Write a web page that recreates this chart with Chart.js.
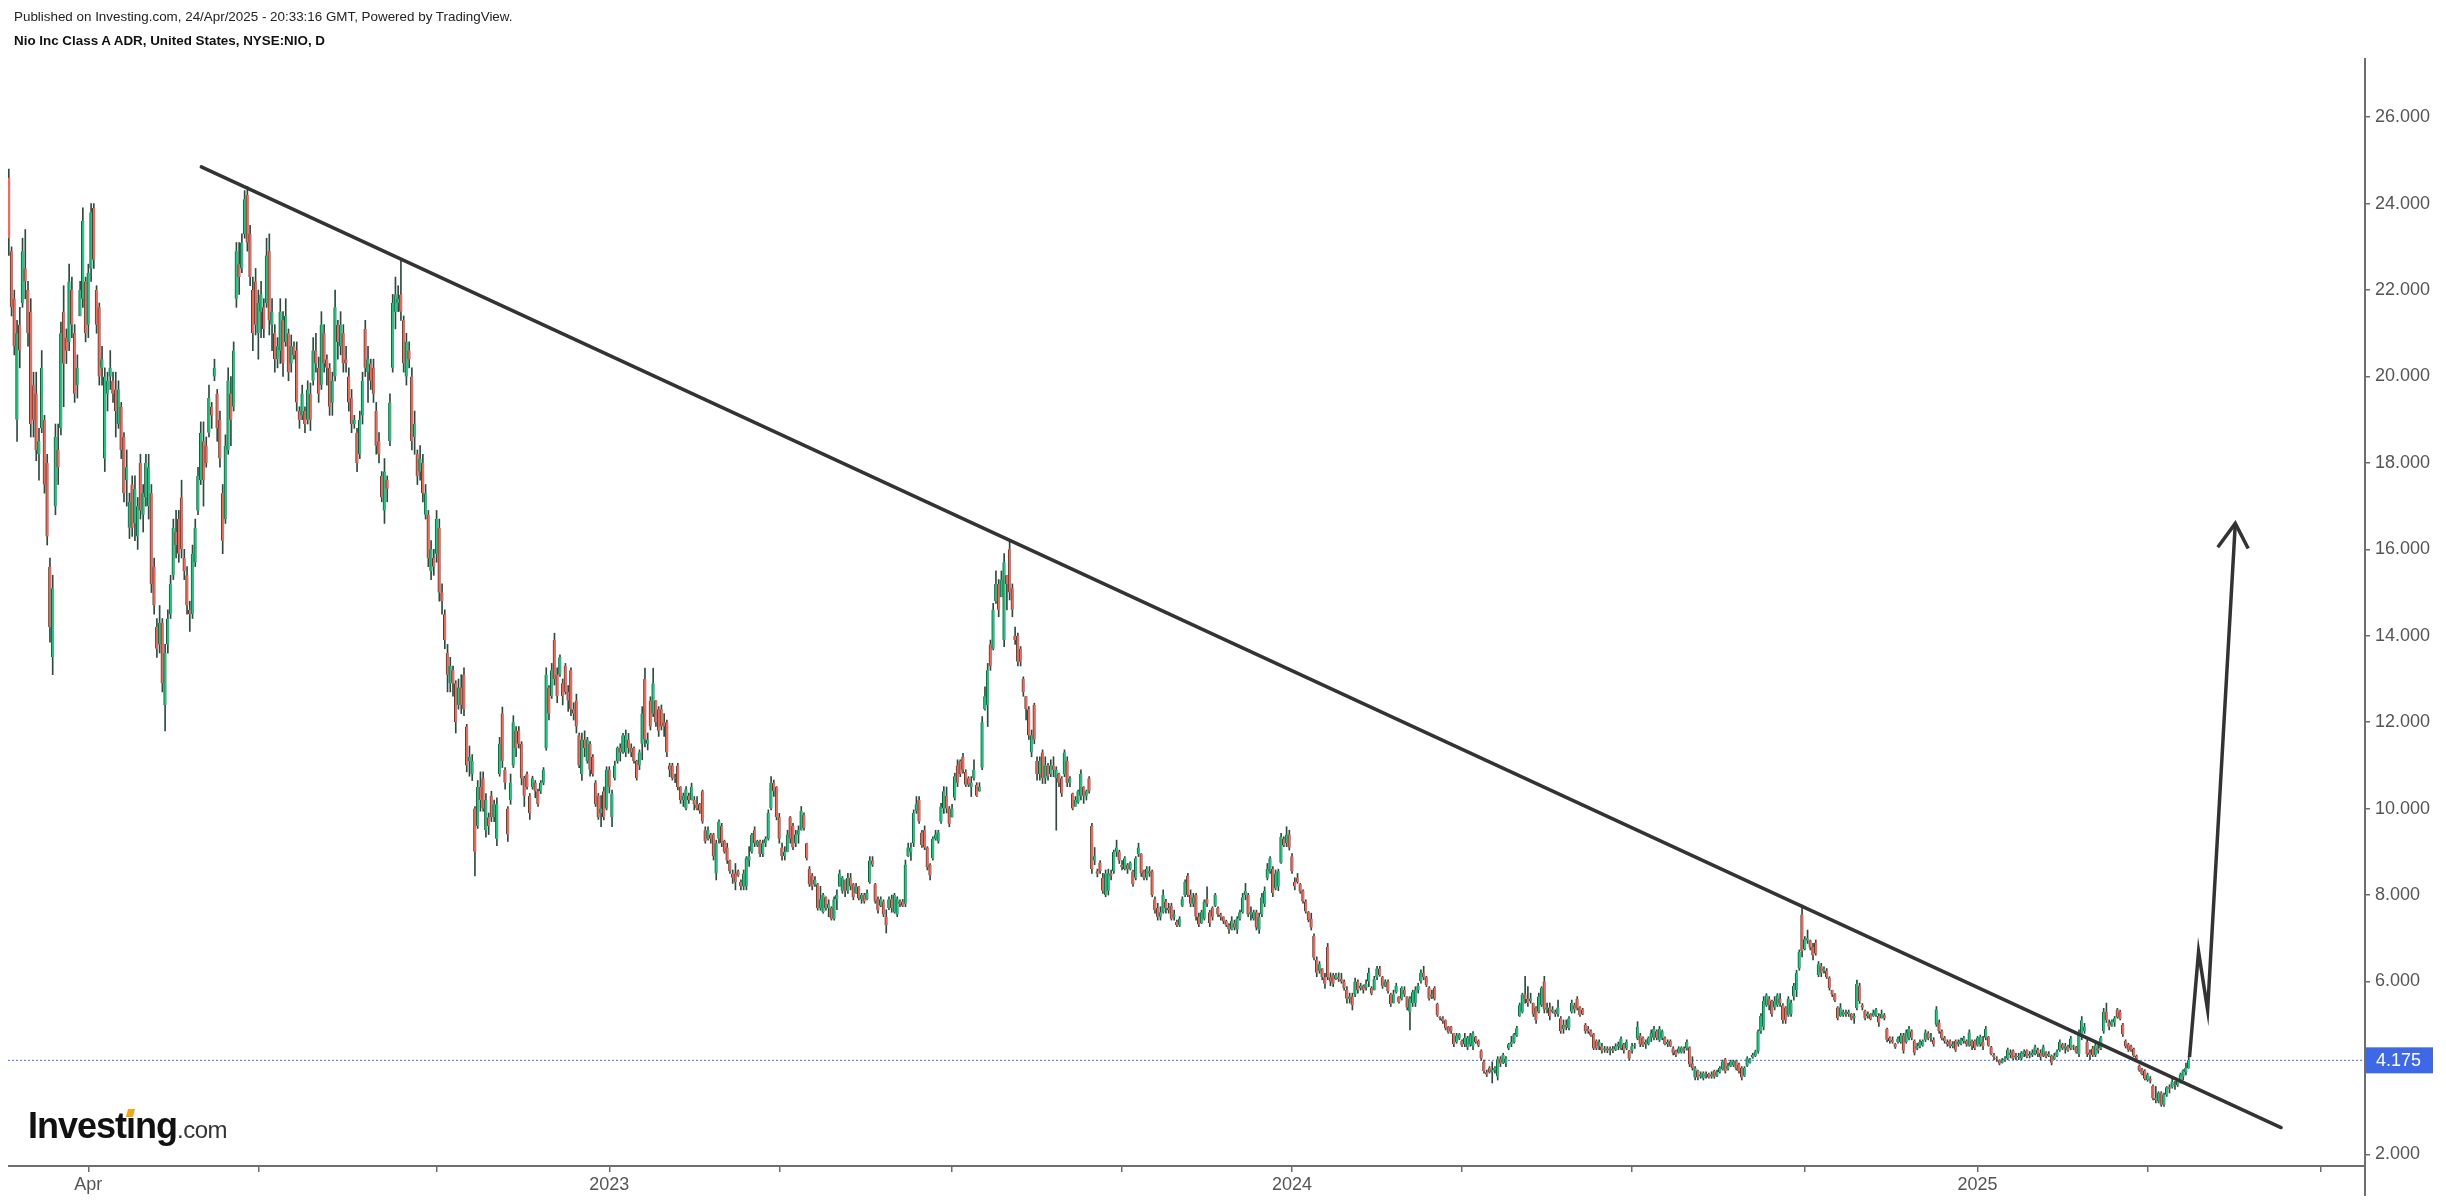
<!DOCTYPE html>
<html><head><meta charset="utf-8">
<script src="https://cdn.jsdelivr.net/npm/chart.js@4.4.1/dist/chart.umd.min.js"></script>
<style>
html,body{margin:0;padding:0;background:#fff;}
#wrap{position:relative;width:2446px;height:1202px;overflow:hidden;background:#fff;}
canvas{position:absolute;left:0;top:0;}
.h1{position:absolute;left:14px;top:9px;font:13.4px Arial,"Liberation Sans",sans-serif;color:#222;white-space:nowrap;line-height:15px;}
.h2{position:absolute;left:14px;top:33px;font:bold 13.4px Arial,"Liberation Sans",sans-serif;color:#111;white-space:nowrap;line-height:15px;}
.logo{position:absolute;left:28px;top:1108px;line-height:36px;white-space:nowrap;font-family:Arial,"Liberation Sans",sans-serif;color:#111;}
.inv{font-weight:bold;font-size:36px;letter-spacing:-1px;}
.com{font-size:24px;color:#333;letter-spacing:-0.5px;}
.di{position:relative;}
.dot{position:absolute;left:1px;top:4px;width:7px;height:8px;background:#f5a31a;transform:skewX(-15deg);}
</style></head>
<body>
<div id="wrap">
<canvas id="c" width="2446" height="1202"></canvas>
<div class="h1">Published on Investing.com, 24/Apr/2025 - 20:33:16 GMT, Powered by TradingView.</div>
<div class="h2">Nio Inc Class A ADR, United States, NYSE:NIO, D</div>
<div class="logo"><span class="inv">Invest<span class="di">ı<i class="dot"></i></span>ng</span><span class="com">.com</span></div>
</div>
<script>
// Daily candles [open, high, low, close], NYSE:NIO, from Feb 2022 to 24 Apr 2025
const ohlc2022 = [
[24.6,24.8,22.8,23.2],[22.9,23.0,21.4,21.6],[21.8,22.0,20.5,20.7],[19.0,21.3,18.5,21.0],[21.2,21.6,20.2,20.6],[21.7,23.2,21.6,22.9],[22.5,23.4,21.8,22.2],[22.0,22.2,20.7,21.0],[21.5,21.8,18.6,18.9],[19.8,20.1,18.6,19.0],
[19.6,20.1,18.05,18.3],[18.2,18.8,17.6,18.5],[18.8,20.6,18.7,20.2],[19.0,19.1,17.3,17.5],[18.0,18.2,16.1,16.3],[15.6,15.8,13.85,14.2],[13.5,15.4,13.1,15.1],[17.0,18.9,16.8,18.6],[18.3,18.9,17.5,17.9],[18.8,21.26,18.65,21.0],
[21.5,22.1,19.3,20.3],[20.9,21.1,20.3,20.6],[20.8,22.6,20.6,22.2],[22.0,22.3,20.9,21.2],[21.0,21.2,19.4,19.6],[19.8,20.5,19.5,20.2],[21.4,22.2,21.4,22.0],[21.8,23.9,21.6,23.6],[22.2,22.3,20.8,21.0],[21.2,22.6,20.9,22.4],
[22.5,24.0,22.2,23.8],[23.9,24.0,22.5,22.7],[22.0,22.1,21.0,21.2],[21.6,21.7,19.8,20.0],[20.2,20.7,19.8,20.4],[18.1,20.2,17.8,20.0],[19.6,20.1,19.2,19.9],[20.0,20.6,19.7,20.2],[19.9,20.1,19.4,19.6],[19.7,20.1,18.6,19.2],
[18.9,19.9,18.8,19.7],[19.3,19.4,18.1,18.3],[18.6,18.7,17.1,17.3],[17.6,18.3,17.0,17.9],[16.5,17.3,16.25,17.1],[17.5,17.7,16.3,16.5],[16.6,17.7,16.2,17.4],[16.3,17.2,16.0,17.0],[18.0,18.2,16.7,16.9],[16.8,17.5,16.4,17.3],
[17.2,18.2,17.0,18.0],[17.0,18.2,16.7,17.9],[17.3,17.5,15.0,15.2],[15.6,15.8,14.5,14.7],[14.2,14.4,13.5,13.7],[13.8,14.7,13.6,14.3],[14.3,14.4,12.7,12.9],[12.4,13.8,11.8,13.6],[13.8,14.6,13.6,14.4],[14.5,15.4,14.4,15.2],
[15.4,16.7,15.3,16.5],[16.4,16.9,15.8,16.1],[16.7,16.9,15.7,15.9],[17.2,17.6,15.8,16.0],[15.8,16.0,15.3,15.5],[15.4,15.6,14.5,14.7],[14.6,14.8,14.1,14.5],[14.5,16.1,14.4,15.9],[15.7,16.7,15.6,16.5],[16.9,17.9,16.8,17.7],
[17.6,18.95,17.5,18.7],[18.5,18.95,17.0,17.6],[18.4,18.6,17.9,18.0],[18.7,19.8,18.6,19.5],[19.3,19.4,18.8,19.1],[20.0,20.4,19.9,20.2],[19.6,19.7,18.5,18.8],[19.0,19.2,17.9,18.1],[17.3,17.5,15.9,16.2],[16.7,18.65,16.6,18.4],
[18.3,20.2,18.2,19.9],[19.6,20.0,18.4,19.0],[19.3,20.8,19.2,20.6],[21.8,23.1,21.6,22.9],[22.6,23.1,21.9,22.3],[22.5,23.3,22.4,23.1],[23.3,24.3,23.2,24.1],[24.2,24.4,22.9,23.1],[23.3,23.5,22.1,22.3],[22.0,22.3,20.6,21.0],
[22.2,22.5,20.96,21.2],[21.0,22.0,20.4,21.7],[21.5,22.2,20.9,21.9],[21.6,21.8,20.9,21.1],[21.7,23.2,21.6,22.8],[22.9,23.3,20.96,21.3],[21.2,21.8,20.6,21.5],[21.0,21.2,20.1,20.4],[20.4,20.9,20.2,20.7],[20.6,21.8,20.3,21.5],
[21.3,21.5,20.0,20.3],[20.8,21.8,20.7,21.4],[21.0,21.1,19.9,20.1],[20.3,20.96,20.1,20.7],[20.7,20.8,20.4,20.5],[20.6,20.8,19.2,19.4],[19.2,19.3,18.8,19.0],[19.1,19.8,19.0,19.6],[19.2,19.3,18.7,18.9],[19.0,19.9,18.9,19.7],
[19.6,19.85,18.75,19.0],[19.9,20.9,19.8,20.6],[20.6,21.0,20.1,20.3],[20.2,20.45,19.4,19.6],[19.8,21.5,19.7,21.2],[21.0,21.2,20.1,20.3],[20.4,20.5,19.8,20.2],[20.2,20.3,19.1,19.3],[19.4,20.1,19.1,19.9],[20.0,22.0,19.9,21.6],
[21.2,21.3,20.4,20.8],[20.7,21.5,20.5,21.2],[21.0,21.2,20.1,20.3],[20.4,20.7,20.1,20.3],[20.0,20.2,19.2,19.4],[19.5,19.7,18.7,18.9],[18.9,19.1,18.8,19.0],[18.7,18.8,17.8,18.0],[18.2,19.2,18.1,19.0],[19.1,20.1,18.9,19.9],
[21.1,21.3,20.0,20.2],[20.1,20.7,19.4,20.4],[20.3,20.4,19.7,19.9],[20.2,20.4,19.4,19.6],[19.2,19.4,18.2,18.4],[18.5,18.7,18.0,18.2],[17.7,17.8,17.1,17.2],[16.9,18.1,16.6,17.8],[17.6,17.7,17.1,17.4],[18.5,19.6,18.4,19.4],
[20.2,21.9,20.1,21.7],[21.5,22.3,21.1,21.9],[21.7,22.1,21.5,21.8],[21.9,22.7,21.3,21.5],[21.3,21.4,20.1,20.3],[20.0,21.0,19.8,20.8],[20.6,20.8,20.2,20.4],[20.0,20.2,18.3,18.5],[18.6,19.2,18.2,18.9],[18.2,18.3,17.5,17.7],
[17.8,18.4,17.6,18.1],[18.0,18.2,17.1,17.3],[16.8,17.5,16.7,17.3],[16.8,16.9,15.6,15.8],[15.5,16.2,15.3,16.0],[15.8,16.0,15.4,15.6],[15.9,16.9,15.7,16.7],[16.5,16.7,14.8,15.0],[15.0,15.2,14.5,14.8],[14.5,14.6,13.7,13.9],
[13.6,13.8,12.7,13.1],[12.9,13.5,12.7,13.3],[13.2,13.3,12.6,12.9],[12.9,12.96,11.75,12.0],[12.4,13.0,12.3,12.8],[12.8,13.1,12.2,12.4],[13.1,13.26,12.15,12.3],[11.9,11.95,10.85,11.0],[11.1,11.45,10.75,11.2],[10.8,11.25,10.65,11.1],
[10.0,10.05,8.44,9.0],[9.6,10.65,9.54,10.5],[10.5,10.85,9.94,10.2],[10.7,10.85,9.94,10.0],[9.5,10.35,9.34,10.2],[9.8,9.9,9.4,9.6],[10.3,10.4,9.7,9.8],[9.8,10.2,9.7,10.1],[9.3,10.25,9.14,10.1],[10.8,11.65,10.75,11.5],
[12.2,12.35,10.95,11.1],[10.9,10.95,10.45,10.6],[10.0,10.05,9.24,9.4],[10.2,10.8,10.1,10.6],[11.0,12.15,10.95,12.0],[11.8,11.9,11.2,11.4],[11.8,11.9,11.4,11.5],[11.5,11.55,10.55,10.7],[10.7,10.75,10.05,10.3],[10.8,10.85,10.45,10.5],
[10.3,10.35,9.75,9.9],[10.5,10.75,10.45,10.7],[10.6,10.65,10.25,10.4],[10.4,10.45,10.05,10.1],[10.4,10.65,10.35,10.6],[10.6,10.95,10.55,10.9],[11.4,13.26,11.35,13.1],[12.8,12.85,12.05,12.2],[12.6,13.36,12.55,13.2],[13.9,14.06,12.86,13.0],
[13.1,13.26,12.45,12.6],[13.1,13.56,13.06,13.5],[12.9,13.0,12.4,12.6],[13.3,13.36,12.65,12.7],[12.7,12.85,12.25,12.5],[13.2,13.26,12.15,12.3],[12.3,12.45,12.05,12.2],[12.5,12.65,11.75,11.9],[11.7,11.75,10.95,11.0],[10.8,11.75,10.65,11.6],
[11.6,11.8,11.2,11.4],[11.1,11.65,11.05,11.6],[11.5,11.55,10.75,10.9],[11.2,11.25,10.75,10.8],[10.6,10.65,10.05,10.1],[10.3,10.35,9.75,9.8],[9.9,10.3,9.58,10.0],[10.4,10.5,9.74,9.8]
];
const ohlc2023 = [
[10.0,10.97,9.97,10.9],[10.9,10.97,10.36,10.5],[9.8,10.43,9.58,10.35],[10.7,11.1,10.66,11.0],[11.1,11.43,11.05,11.4],[11.4,11.5,11.1,11.3],[11.3,11.74,11.28,11.7],[11.3,11.82,11.2,11.7],[11.6,11.74,11.28,11.4],[11.4,11.5,11.2,11.3],
[11.4,11.43,11.05,11.1],[11.1,11.12,10.66,10.7],[11.0,11.36,10.9,11.3],[11.5,12.36,11.13,12.2],[13.0,13.25,11.43,11.6],[11.5,11.75,11.36,11.6],[12.5,12.59,11.82,11.9],[12.2,13.25,12.13,12.9],[12.5,12.5,11.9,12.0],[12.3,12.36,11.67,11.8],
[12.3,12.4,11.82,11.9],[12.0,12.2,11.67,11.9],[12.0,12.05,11.2,11.3],[11.0,11.05,10.74,10.9],[11.0,11.05,10.66,10.7],[10.7,10.8,10.6,10.7],[11.0,11.05,10.43,10.5],[10.5,10.51,10.12,10.2],[10.2,10.36,10.05,10.3],[10.0,10.51,9.97,10.45],
[10.3,10.36,10.12,10.2],[10.2,10.59,10.2,10.5],[10.2,10.28,9.97,10.1],[10.1,10.28,9.97,10.0],[10.1,10.12,9.89,9.95],[10.4,10.43,9.66,9.7],[9.5,9.58,9.2,9.25],[9.3,9.58,9.27,9.5],[9.4,9.43,9.2,9.3],[9.4,9.43,8.81,8.9],
[8.5,9.27,8.35,9.2],[9.3,9.74,9.2,9.7],[9.6,9.66,9.12,9.2],[9.25,9.27,8.97,9.0],[9.1,9.2,8.73,8.8],[8.8,8.81,8.5,8.55],[8.5,8.58,8.27,8.4],[8.5,8.73,8.12,8.3],[8.55,8.58,8.43,8.45],[8.3,8.35,8.12,8.2],
[8.2,8.58,8.12,8.5],[8.2,8.89,8.12,8.85],[8.8,9.12,8.66,8.9],[9.0,9.43,8.97,9.4],[9.5,9.58,9.12,9.2],[9.15,9.27,9.12,9.25],[9.25,9.27,8.89,8.95],[8.95,9.27,8.89,9.2],[9.2,9.35,9.12,9.3],[9.3,9.97,9.27,9.9],
[10.0,10.74,9.97,10.6],[10.6,10.66,10.28,10.4],[10.5,10.51,9.74,9.8],[9.8,9.89,9.2,9.3],[9.1,9.2,8.81,8.9],[8.9,9.12,8.81,9.0],[9.0,9.5,9.0,9.4],[9.8,9.82,9.2,9.3],[9.6,9.66,9.05,9.1],[9.2,9.5,9.12,9.4],
[9.4,9.6,9.2,9.5],[9.5,10.05,9.5,9.95],[9.85,9.9,9.5,9.55],[9.2,9.2,8.81,8.85],[8.6,8.66,8.2,8.25],[8.45,8.5,8.12,8.2],[8.25,8.43,8.2,8.35],[8.25,8.27,7.65,7.7],[7.7,8.2,7.65,7.9],[7.6,8.04,7.58,8.0],
[7.95,7.96,7.65,7.7],[7.7,7.89,7.5,7.8],[7.7,7.73,7.42,7.45],[7.45,7.96,7.42,7.9],[7.9,8.12,7.66,8.0],[8.2,8.58,8.2,8.5],[8.1,8.43,8.04,8.4],[8.35,8.35,7.96,8.1],[8.1,8.5,8.04,8.4],[8.4,8.5,8.12,8.2],
[8.25,8.27,7.89,7.95],[8.05,8.27,8.04,8.2],[8.2,8.2,7.89,7.92],[7.9,8.04,7.81,8.0],[8.0,8.04,7.81,7.85],[7.9,8.12,7.89,8.05],[8.3,8.89,8.27,8.8],[8.8,8.89,8.66,8.7],[8.25,8.27,7.81,7.85],[7.9,7.96,7.58,7.65],
[7.75,7.96,7.73,7.9],[7.85,7.89,7.5,7.55],[7.5,7.66,7.12,7.3],[7.7,7.96,7.66,7.9],[7.9,8.0,7.6,7.7],[7.6,8.04,7.58,8.0],[7.55,7.96,7.5,7.9],[7.85,7.89,7.73,7.8],[7.85,7.9,7.73,7.75],[7.8,8.81,7.73,8.7],
[8.9,9.2,8.89,9.1],[9.0,9.2,8.8,9.1],[9.2,9.97,9.12,9.9],[9.95,10.28,9.89,10.1],[10.2,10.28,9.66,9.7],[9.45,9.5,9.1,9.15],[9.5,9.6,9.05,9.1],[9.1,9.12,8.58,8.65],[8.7,8.73,8.35,8.45],[8.85,9.35,8.81,9.3],
[9.3,9.5,9.27,9.4],[9.25,9.5,9.2,9.45],[9.7,10.12,9.66,10.05],[10.0,10.51,9.89,10.4],[10.3,10.5,9.9,10.0],[10.0,10.05,9.58,9.65],[9.8,10.1,9.8,10.0],[10.25,10.82,10.2,10.75],[11.0,11.13,10.51,10.6],[11.1,11.13,10.74,10.8],
[11.2,11.28,10.82,10.9],[10.85,10.9,10.51,10.55],[10.7,10.74,10.51,10.55],[10.5,10.74,10.28,10.6],[10.7,11.13,10.66,10.9],[10.55,10.6,10.28,10.3],[10.4,10.6,10.4,10.5],[10.95,12.13,10.9,12.0],[12.3,12.82,12.28,12.6],[12.4,13.36,11.9,13.2],
[13.8,13.9,13.2,13.3],[13.7,14.75,13.67,14.6],[14.8,15.5,14.75,15.2],[15.2,15.3,14.44,14.6],[14.9,15.5,14.9,15.3],[13.9,15.9,13.75,15.7],[15.4,15.4,14.6,15.2],[16.0,16.2,14.83,15.0],[15.1,15.2,14.44,14.6],[14.0,14.2,13.8,13.9],
[14.0,14.06,13.3,13.4],[13.7,13.75,13.3,13.4],[13.0,13.05,12.6,12.7],[12.6,12.6,12.05,12.3],[12.3,12.36,11.6,11.7],[11.3,11.82,11.2,11.7],[12.4,12.44,11.5,11.6],[11.1,11.2,10.66,10.8],[10.8,11.2,10.66,11.1],[11.3,11.36,10.58,10.7],
[10.7,11.2,10.58,11.0],[11.0,11.05,10.66,10.75],[10.8,11.13,10.74,11.0],[11.0,11.2,10.74,10.9],[10.7,10.97,9.5,10.9],[10.8,10.82,10.51,10.6],[10.7,10.74,10.28,10.35],[10.8,11.36,10.74,11.3],[11.1,11.2,10.51,10.6],[10.6,10.74,10.51,10.7],
[10.35,10.36,9.97,10.0],[10.05,10.28,10.05,10.2],[10.15,10.43,10.12,10.4],[10.3,10.9,10.2,10.8],[10.5,10.51,10.12,10.3],[10.3,10.43,10.2,10.4],[10.7,10.74,10.36,10.4],[9.6,9.66,8.5,8.6],[8.8,9.1,8.7,8.9],[8.55,8.6,8.42,8.5],
[8.75,8.8,8.5,8.55],[8.4,8.5,8.04,8.1],[8.0,8.58,7.96,8.5],[8.1,8.6,8.0,8.5],[8.5,8.58,8.35,8.45],[8.55,9.04,8.5,9.0],[9.0,9.27,8.89,9.1],[9.0,9.04,8.73,8.8],[8.7,8.8,8.58,8.65],[8.6,8.89,8.58,8.85],
[8.7,8.73,8.5,8.6],[8.6,8.77,8.58,8.75],[8.55,8.58,8.2,8.25],[8.4,8.89,8.35,8.85],[8.95,9.2,8.89,9.1],[8.95,8.96,8.43,8.5],[8.55,8.58,8.35,8.4],[8.4,8.66,8.35,8.6],[8.55,8.66,8.43,8.5],[8.55,8.58,7.96,8.0],
[7.9,7.96,7.58,7.65],[7.7,7.81,7.42,7.5],[7.5,7.73,7.42,7.6],[7.6,8.12,7.58,8.0],[7.85,7.9,7.58,7.7],[7.7,7.81,7.58,7.65],[7.75,7.81,7.42,7.45],[7.5,7.65,7.42,7.55],[7.38,7.42,7.27,7.3],[7.3,7.5,7.27,7.45],
[7.75,7.96,7.73,7.9],[8.0,8.35,7.96,8.3],[8.45,8.5,7.96,8.0],[8.0,8.12,7.73,7.8],[7.8,8.04,7.73,7.95],[8.0,8.04,7.42,7.5],[7.5,7.58,7.27,7.32],[7.35,7.65,7.34,7.6],[7.45,7.89,7.42,7.85],[7.9,8.19,7.73,7.8],
[7.6,7.65,7.27,7.35],[7.7,7.73,7.42,7.5],[7.75,8.04,7.73,8.0],[7.7,7.73,7.5,7.55],[7.55,7.58,7.42,7.5],[7.5,7.5,7.34,7.4],[7.4,7.42,7.27,7.3],[7.3,7.34,7.11,7.2],[7.2,7.5,7.19,7.4],[7.35,7.42,7.19,7.25],
[7.2,7.5,7.11,7.45],[7.45,7.65,7.42,7.6],[7.6,8.04,7.58,7.95],[8.0,8.27,7.89,8.1],[8.0,8.04,7.5,7.55],[7.55,7.73,7.42,7.6],[7.45,7.65,7.42,7.6],[7.6,7.65,7.19,7.25],[7.2,7.58,7.11,7.5],[7.55,8.04,7.5,7.95],
[7.8,8.19,7.73,8.1],[8.4,8.73,8.35,8.6],[8.55,8.89,8.5,8.85],[8.6,8.66,7.96,8.05],[8.15,8.58,8.12,8.5],[8.2,8.6,8.1,8.55],[8.75,9.43,8.73,9.35],[9.3,9.35,9.12,9.15],[9.2,9.58,9.12,9.4],[9.4,9.5,9.04,9.1]
];
const ohlc2024 = [
[8.9,8.96,8.5,8.55],[8.3,8.4,8.12,8.2],[8.4,8.5,8.27,8.3],[8.25,8.27,8.04,8.08],[8.1,8.12,7.81,7.85],[7.85,7.89,7.58,7.62],[7.6,7.62,7.38,7.42],[7.45,7.58,7.19,7.25],[7.05,7.1,6.5,6.55],[6.5,6.57,6.11,6.2],
[6.25,6.46,6.19,6.4],[6.3,6.3,6.04,6.1],[6.1,6.19,5.84,5.95],[6.8,6.88,6.04,6.1],[6.1,6.2,5.9,6.0],[6.15,6.19,5.88,5.95],[6.05,6.19,6.04,6.15],[6.1,6.2,6.0,6.05],[6.05,6.19,5.96,6.0],[6.0,6.04,5.8,5.85],
[5.8,5.88,5.5,5.6],[5.6,5.73,5.5,5.65],[5.65,5.73,5.34,5.45],[5.7,6.08,5.65,6.0],[6.0,6.04,5.73,5.8],[5.85,5.96,5.8,5.9],[5.9,5.92,5.73,5.8],[5.85,6.04,5.8,5.95],[6.0,6.31,5.88,6.2],[5.85,5.88,5.69,5.72],
[5.8,6.12,5.8,6.05],[6.1,6.35,6.04,6.3],[6.3,6.35,6.12,6.15],[6.1,6.12,5.84,5.9],[5.9,6.04,5.88,6.0],[6.0,6.04,5.73,5.78],[5.7,5.73,5.42,5.48],[5.5,5.8,5.5,5.7],[5.75,5.96,5.73,5.9],[5.65,5.65,5.5,5.52],
[5.6,5.88,5.57,5.85],[5.8,5.88,5.65,5.7],[5.65,5.65,5.34,5.4],[5.3,5.65,4.88,5.6],[5.5,5.8,5.42,5.75],[5.5,5.88,5.42,5.8],[5.8,5.96,5.73,5.9],[6.0,6.27,5.96,6.2],[6.2,6.35,6.04,6.1],[6.1,6.12,5.88,5.92],
[5.85,5.88,5.57,5.6],[5.65,5.8,5.6,5.7],[5.85,5.88,5.57,5.6],[5.48,5.5,5.19,5.22],[5.18,5.19,5.11,5.15],[5.15,5.19,5.03,5.08],[5.1,5.11,4.88,4.92],[4.95,4.96,4.8,4.82],[4.95,4.96,4.8,4.85],[4.8,4.8,4.49,4.55],
[4.6,4.8,4.57,4.75],[4.68,4.8,4.65,4.78],[4.62,4.65,4.49,4.52],[4.55,4.8,4.49,4.7],[4.48,4.73,4.42,4.7],[4.55,4.8,4.5,4.75],[4.5,4.84,4.42,4.8],[4.72,4.73,4.57,4.6],[4.62,4.65,4.49,4.52],[4.4,4.42,4.18,4.22],
[4.15,4.18,3.88,3.92],[3.9,3.95,3.8,3.85],[4.0,4.03,3.88,3.9],[3.9,4.14,3.65,3.95],[3.95,4.03,3.88,4.0],[3.8,4.26,3.72,4.2],[4.2,4.26,4.03,4.1],[4.12,4.34,4.1,4.3],[4.1,4.26,4.03,4.22],[4.45,4.57,4.42,4.55],
[4.55,4.73,4.49,4.6],[4.6,4.8,4.57,4.78],[4.75,4.96,4.73,4.92],[5.2,5.5,5.19,5.45],[5.3,5.73,5.27,5.7],[5.7,6.12,5.5,5.6],[5.6,5.88,5.42,5.5],[5.55,5.73,5.5,5.6],[5.5,5.5,5.19,5.25],[5.4,5.42,5.03,5.1],
[5.3,5.73,5.27,5.65],[5.45,5.88,5.42,5.85],[6.0,6.12,5.27,5.35],[5.35,5.5,5.27,5.4],[5.4,5.5,5.11,5.2],[5.3,5.42,5.27,5.35],[5.3,5.34,5.19,5.25],[5.25,5.57,5.19,5.4],[5.15,5.19,4.8,4.85],[4.9,5.11,4.8,5.0],
[5.0,5.11,4.88,4.95],[4.92,5.19,4.88,5.15],[5.3,5.57,5.27,5.5],[5.45,5.5,5.27,5.35],[5.6,5.65,5.34,5.38],[5.4,5.42,5.19,5.22],[5.35,5.38,5.23,5.25],[5.0,5.03,4.8,4.85],[4.9,4.96,4.8,4.85],[4.85,4.88,4.73,4.75],
[4.78,4.8,4.42,4.45],[4.62,4.65,4.42,4.45],[4.5,4.65,4.42,4.6],[4.5,4.57,4.34,4.4],[4.42,4.5,4.36,4.45],[4.45,4.49,4.35,4.4],[4.4,4.49,4.3,4.45],[4.45,4.5,4.35,4.4],[4.42,4.56,4.4,4.5],[4.5,4.6,4.42,4.55],
[4.45,4.72,4.42,4.68],[4.55,4.57,4.34,4.4],[4.45,4.65,4.42,4.6],[4.4,4.41,4.18,4.22],[4.4,4.57,4.34,4.5],[4.5,4.57,4.45,4.52],[4.68,5.07,4.65,4.95],[4.75,4.8,4.49,4.55],[4.7,4.72,4.49,4.52],[4.55,4.65,4.45,4.6],
[4.55,4.72,4.53,4.7],[4.7,4.88,4.61,4.8],[4.7,4.96,4.65,4.9],[4.85,4.88,4.65,4.7],[4.65,4.96,4.61,4.9],[4.7,4.88,4.65,4.85],[4.7,4.72,4.53,4.55],[4.55,4.65,4.49,4.6],[4.62,4.65,4.49,4.5],[4.45,4.49,4.3,4.35],
[4.4,4.41,4.26,4.3],[4.35,4.49,4.34,4.45],[4.36,4.49,4.34,4.47],[4.45,4.49,4.34,4.4],[4.45,4.65,4.41,4.6],[4.48,4.49,4.03,4.08],[4.1,4.26,3.95,4.0],[3.78,4.03,3.72,4.0],[3.94,3.95,3.72,3.78],[3.8,3.91,3.76,3.85],
[3.76,3.91,3.72,3.88],[3.85,3.91,3.76,3.82],[3.86,3.88,3.76,3.78],[3.8,3.91,3.76,3.85],[3.93,3.95,3.76,3.8],[3.82,3.95,3.8,3.9],[3.9,4.03,3.88,4.0],[3.97,4.18,3.95,4.15],[4.2,4.22,3.88,3.92],[3.98,4.11,3.95,4.05],
[4.05,4.18,4.03,4.15],[4.06,4.18,4.03,4.15],[4.16,4.18,3.95,3.98],[4.08,4.11,3.88,3.92],[4.0,4.03,3.72,3.78],[3.82,4.03,3.8,4.0],[4.05,4.26,4.03,4.22],[4.12,4.22,4.11,4.2],[4.24,4.34,4.22,4.3],[4.28,4.41,4.26,4.38],
[4.38,4.88,4.34,4.85],[4.85,5.26,4.8,5.2],[4.95,5.65,4.88,5.55],[5.45,5.72,5.42,5.68],[5.6,5.65,5.34,5.45],[5.55,5.57,5.19,5.25],[5.4,5.65,5.34,5.55],[5.45,5.72,5.42,5.68],[5.6,5.72,5.42,5.5],[5.45,5.49,5.03,5.1],
[5.4,5.42,5.03,5.1],[5.22,5.65,5.19,5.6],[5.25,5.57,5.19,5.5],[5.65,5.96,5.57,5.9],[5.8,6.26,5.65,6.2],[6.3,6.73,6.26,6.68],[7.55,7.77,6.57,6.7],[6.75,7.04,6.73,6.98],[6.95,7.19,6.88,7.0],[6.95,6.96,6.73,6.78],
[6.8,6.88,6.5,6.6],[6.9,6.96,6.61,6.65],[6.15,6.46,6.11,6.4],[6.35,6.42,6.11,6.2],[6.25,6.34,6.19,6.3],[6.25,6.3,6.07,6.1],[6.08,6.11,5.8,5.85],[5.8,5.8,5.65,5.7],[5.7,5.72,5.53,5.56],[5.4,5.42,5.11,5.15],
[5.2,5.49,5.19,5.4],[5.22,5.34,5.19,5.3],[5.28,5.34,5.19,5.25],[5.25,5.34,5.19,5.3],[5.25,5.26,5.11,5.14],[5.15,5.26,5.03,5.2],[5.38,6.03,5.34,5.95],[5.9,5.96,5.49,5.55],[5.45,5.49,5.34,5.4],[5.32,5.34,5.11,5.15],
[5.2,5.3,5.15,5.25],[5.24,5.26,5.11,5.13],[5.2,5.34,5.19,5.28],[5.22,5.38,5.19,5.35],[5.2,5.26,4.96,5.05],[5.15,5.34,5.15,5.25],[5.22,5.26,5.11,5.15],[4.9,4.92,4.6,4.65],[4.7,4.72,4.57,4.62],[4.65,4.72,4.57,4.6],
[4.56,4.57,4.45,4.48],[4.6,4.72,4.57,4.68],[4.6,4.8,4.57,4.75],[4.75,4.8,4.34,4.4],[4.6,4.88,4.57,4.82],[4.7,4.96,4.65,4.9],[4.85,4.88,4.65,4.7],[4.62,4.65,4.3,4.35],[4.45,4.57,4.42,4.5],[4.5,4.65,4.46,4.6],
[4.52,4.65,4.5,4.62],[4.65,4.88,4.61,4.82],[4.8,4.84,4.65,4.68],[4.7,4.8,4.61,4.72],[4.65,4.7,4.5,4.55],[5.0,5.42,4.96,5.35],[5.05,5.11,4.8,4.85],[4.85,4.88,4.65,4.68],[4.7,4.73,4.57,4.62],[4.6,4.65,4.5,4.55],
[4.62,4.65,4.46,4.5],[4.5,4.61,4.46,4.55],[4.62,4.65,4.38,4.42],[4.55,4.65,4.5,4.6],[4.55,4.69,4.53,4.66],[4.62,4.73,4.57,4.7],[4.62,4.65,4.5,4.55],[4.52,4.88,4.5,4.82],[4.62,4.65,4.42,4.5],[4.62,4.65,4.42,4.45],
[4.52,4.73,4.5,4.7],[4.55,4.76,4.5,4.72]
];
const ohlc2025 = [
[4.6,4.73,4.42,4.5],[4.7,4.96,4.65,4.9],[4.72,4.73,4.5,4.52],[4.48,4.5,4.3,4.32],[4.3,4.34,4.19,4.25],[4.22,4.26,4.15,4.2],[4.18,4.19,4.07,4.1],[4.12,4.22,4.11,4.18],[4.18,4.26,4.15,4.22],[4.22,4.46,4.19,4.42],
[4.35,4.42,4.23,4.3],[4.4,4.42,4.19,4.22],[4.25,4.34,4.19,4.28],[4.28,4.34,4.19,4.25],[4.22,4.38,4.19,4.35],[4.32,4.42,4.26,4.38],[4.4,4.42,4.23,4.26],[4.28,4.38,4.23,4.32],[4.3,4.42,4.26,4.35],[4.32,4.53,4.3,4.48],
[4.42,4.46,4.26,4.32],[4.35,4.42,4.19,4.25],[4.28,4.53,4.26,4.48],[4.36,4.38,4.23,4.26],[4.28,4.38,4.26,4.32],[4.28,4.3,4.07,4.12],[4.2,4.34,4.19,4.28],[4.28,4.42,4.26,4.38],[4.4,4.65,4.38,4.6],[4.55,4.57,4.42,4.45],
[4.45,4.57,4.34,4.5],[4.5,4.53,4.38,4.4],[4.45,4.73,4.42,4.68],[4.5,4.53,4.42,4.48],[4.48,4.5,4.34,4.36],[4.32,4.88,4.26,4.82],[4.75,5.19,4.65,5.1],[4.85,5.03,4.8,4.95],[4.6,4.65,4.26,4.32],[4.35,4.42,4.19,4.3],
[4.45,4.5,4.26,4.3],[4.3,4.57,4.26,4.52],[4.45,4.57,4.34,4.4],[4.45,4.73,4.42,4.7],[4.85,5.38,4.8,5.3],[5.3,5.5,5.05,5.1],[5.05,5.11,4.88,4.95],[4.98,5.11,4.96,5.08],[5.05,5.19,4.96,5.15],[5.35,5.38,5.15,5.18],
[5.3,5.34,5.11,5.14],[5.0,5.03,4.73,4.78],[4.62,4.65,4.46,4.5],[4.55,4.57,4.38,4.42],[4.5,4.53,4.38,4.4],[4.44,4.46,4.26,4.28],[4.28,4.3,4.19,4.22],[4.05,4.07,3.92,3.94],[3.97,3.99,3.84,3.86],[3.94,3.96,3.72,3.75],
[3.72,3.88,3.69,3.85],[3.75,3.8,3.65,3.7],[3.58,3.61,3.26,3.3],[3.3,3.57,3.19,3.25],[3.22,3.45,3.19,3.42],[3.42,3.45,3.11,3.15],[3.15,3.42,3.11,3.38],[3.38,3.57,3.34,3.55],[3.55,3.61,3.42,3.52],[3.55,3.76,3.53,3.68],
[3.62,3.69,3.5,3.6],[3.6,3.72,3.57,3.7],[3.68,3.88,3.65,3.85],[3.8,3.96,3.72,3.94],[3.9,4.11,3.84,4.0],[4.0,4.26,3.99,4.175]
];

// Axis ticks (bar index of each quarter start) and labels
const xTickPos = [29,91,156,219,281,344,406,468,530,592,655,718,780,843];
const xTickLabels = ['Apr','','','2023','','','','2024','','','','2025','',''];
const yTicks = [2,4,6,8,10,12,14,16,18,20,22,24,26];
const lastPrice = 4.175;

// Drawn annotations: [bar index, price]
const trendLine = [[70.2,24.85],[828.7,2.62]];
const projection = [[795.3,4.25],[798.6,6.69],[801.9,5.34],[812,16.6]];
const arrowHead = [[805.6,16.05],[812,16.6],[816.7,16.02]];

const X_MIN = -0.3, X_MAX = 859.3, Y_MIN = 1.73, Y_MAX = 27.37;
const UP = '#26c281', DOWN = '#ef6a5e', WICK = '#2e4a3e', LINE = '#333333';
const FONT = 'Arial, "Liberation Sans", sans-serif';

const bars = ohlc2022.concat(ohlc2023, ohlc2024, ohlc2025);
const wicks = bars.map((b, i) => ({x: i, y: [b[2], b[1]]}));
const bodies = bars.map((b, i) => ({x: i, y: [Math.min(b[0], b[3]), Math.max(b[0], b[3])]}));
const bodyColors = bars.map(b => b[3] >= b[0] ? UP : DOWN);
const pts = a => a.map(p => ({x: p[0], y: p[1]}));

const decor = {
  id: 'decor',
  afterDraw(chart) {
    const {ctx, chartArea: a, scales: {y}} = chart;
    ctx.save();
    ctx.strokeStyle = '#6e6e6e';
    ctx.lineWidth = 2;
    ctx.beginPath();
    ctx.moveTo(a.left, a.bottom); ctx.lineTo(a.right, a.bottom);
    ctx.moveTo(a.right, a.top); ctx.lineTo(a.right, a.bottom + 30);
    ctx.stroke();
    const py = y.getPixelForValue(lastPrice);
    ctx.fillStyle = '#3f68e6';
    ctx.fillRect(a.right + 1, py - 13, 67, 26);
    ctx.fillStyle = '#ffffff';
    ctx.font = '18px ' + FONT;
    ctx.textBaseline = 'middle';
    ctx.textAlign = 'left';
    ctx.fillText(lastPrice.toFixed(3), a.right + 11, py + 1);
    ctx.restore();
  }
};

new Chart(document.getElementById('c'), {
  type: 'bar',
  data: {
    datasets: [
      {type: 'line', data: pts(trendLine), borderColor: LINE, borderWidth: 3.5, pointRadius: 0, order: 0, borderCapStyle: 'round'},
      {type: 'line', data: pts(projection), borderColor: LINE, borderWidth: 3.5, pointRadius: 0, order: 0, tension: 0, borderJoinStyle: 'miter'},
      {type: 'line', data: pts(arrowHead), borderColor: LINE, borderWidth: 3.5, pointRadius: 0, order: 0, tension: 0, borderJoinStyle: 'miter'},
      {type: 'bar', data: bodies, backgroundColor: bodyColors, borderColor: WICK, borderWidth: {left: 1, right: 0, top: 0, bottom: 0}, borderSkipped: false, barThickness: 3, grouped: false, minBarLength: 1, order: 2},
      {type: 'bar', data: wicks, backgroundColor: WICK, barThickness: 1, grouped: false, minBarLength: 1, order: 3},
      {type: 'line', data: [{x: X_MIN, y: lastPrice}, {x: X_MAX, y: lastPrice}], borderColor: '#4a6fe3', borderWidth: 1, borderDash: [2, 2], pointRadius: 0, order: 4}
    ]
  },
  options: {
    responsive: false,
    animation: false,
    devicePixelRatio: 1,
    layout: {padding: {left: 8, top: 58, right: 0, bottom: 0}},
    plugins: {legend: {display: false}, tooltip: {enabled: false}},
    scales: {
      x: {
        type: 'linear', min: X_MIN, max: X_MAX, offset: false, position: 'bottom',
        afterBuildTicks: s => { s.ticks = xTickPos.map(v => ({value: v})); },
        afterFit: s => { s.height = 36; },
        ticks: {
          autoSkip: false, maxRotation: 0, color: '#555', padding: 2,
          font: {family: FONT, size: 18},
          callback: v => { const k = xTickPos.indexOf(v); return k >= 0 ? xTickLabels[k] : ''; }
        },
        grid: {display: true, offset: false, drawOnChartArea: false, drawTicks: true, tickLength: 6, color: '#6e6e6e', lineWidth: 1.5},
        border: {display: false}
      },
      y: {
        type: 'linear', position: 'right', min: Y_MIN, max: Y_MAX,
        afterBuildTicks: s => { s.ticks = yTicks.map(v => ({value: v})); },
        afterFit: s => { s.width = 81; },
        ticks: {color: '#555', padding: 5, font: {family: FONT, size: 18}, callback: v => Number(v).toFixed(3)},
        grid: {display: true, drawOnChartArea: false, drawTicks: true, tickLength: 5, color: '#6e6e6e', lineWidth: 1.5},
        border: {display: false}
      }
    }
  },
  plugins: [decor]
});
</script>
</body></html>
